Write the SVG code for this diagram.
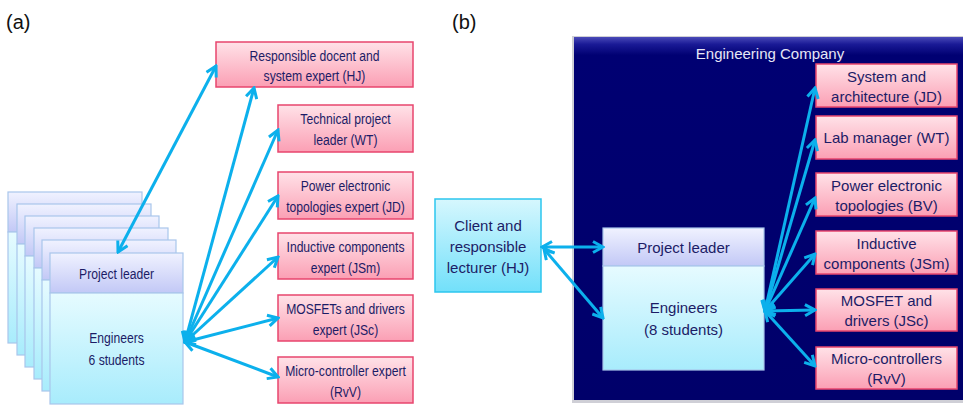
<svg xmlns="http://www.w3.org/2000/svg" width="963" height="405" viewBox="0 0 963 405">
  <style>
    text { font-family: "Liberation Sans", Arial, sans-serif; font-size: 15px; fill: #1c1c66; text-anchor: middle; }
    .lbl { font-size: 20px; fill: #111; text-anchor: start; }
    .title { fill: #e6e6f6; }
    .pink { fill: url(#gPink); stroke: #e8456e; stroke-width: 1.5; }
    .head { fill: url(#gHead); stroke: #a9c6ec; stroke-width: 1.2; }
    .body { fill: url(#gBody); stroke: #a9c6ec; stroke-width: 1.2; }
    .client { fill: url(#gClient); stroke: #2cc6ee; stroke-width: 1.5; }
    .conn { fill: none; stroke: #0cb0ec; stroke-width: 3; marker-start: url(#arr); marker-end: url(#arr); }
  </style>
  <defs>
    <linearGradient id="gPink" x1="0" y1="0" x2="0" y2="1">
      <stop offset="0" stop-color="#ffe2e8"/>
      <stop offset="1" stop-color="#fb9fb4"/>
    </linearGradient>
    <linearGradient id="gHead" x1="0" y1="0" x2="0" y2="1">
      <stop offset="0" stop-color="#f0f2ff"/>
      <stop offset="1" stop-color="#c2c8f6"/>
    </linearGradient>
    <linearGradient id="gBody" x1="0" y1="0" x2="0" y2="1">
      <stop offset="0" stop-color="#e6fbff"/>
      <stop offset="1" stop-color="#a8ecfc"/>
    </linearGradient>
    <linearGradient id="gClient" x1="0" y1="0" x2="0" y2="1">
      <stop offset="0" stop-color="#d6f7fe"/>
      <stop offset="1" stop-color="#72e0fa"/>
    </linearGradient>
    <linearGradient id="gNavy" x1="0" y1="0" x2="0" y2="1">
      <stop offset="0" stop-color="#4a4ab8"/>
      <stop offset="0.02" stop-color="#1a1a96"/>
      <stop offset="0.05" stop-color="#000072"/>
      <stop offset="1" stop-color="#00006a"/>
    </linearGradient>
    <marker id="arr" markerUnits="userSpaceOnUse" markerWidth="14" markerHeight="14" viewBox="0 0 14 14" refX="12" refY="7" orient="auto-start-reverse">
      <path d="M2,1.5 L12,7 L2,12.5" fill="none" stroke="#0cb0ec" stroke-width="3" stroke-linejoin="miter"/>
    </marker>
  </defs>

  <text class="lbl" x="6" y="29">(a)</text>
  <text class="lbl" x="452" y="29">(b)</text>

  <!-- Panel (a): stacked cards -->
  <g id="stack">
    <rect class="head" x="8" y="192" width="134" height="40"/>
    <rect class="body" x="8" y="232" width="134" height="111"/>
    <rect class="head" x="17" y="204" width="134" height="40"/>
    <rect class="body" x="17" y="244" width="134" height="111"/>
    <rect class="head" x="25" y="216" width="134" height="40"/>
    <rect class="body" x="25" y="256" width="134" height="111"/>
    <rect class="head" x="34" y="228" width="134" height="40"/>
    <rect class="body" x="34" y="268" width="134" height="111"/>
    <rect class="head" x="42" y="240" width="134" height="40"/>
    <rect class="body" x="42" y="280" width="134" height="111"/>
  </g>
  <g id="a-team">
    <rect class="head" x="50" y="253" width="133" height="40"/>
    <rect class="body" x="50" y="293" width="133" height="111"/>
    <g transform="translate(116.5 0) scale(0.81 1)">
      <text x="0" y="279">Project leader</text>
      <text x="0" y="343">Engineers</text>
      <text x="0" y="365">6 students</text>
    </g>
  </g>

  <g id="a-hj">
    <rect class="pink" x="216" y="42" width="197" height="45"/>
    <g transform="translate(314.5 0) scale(0.81 1)">
      <text x="0" y="61">Responsible docent and</text>
      <text x="0" y="81">system expert (HJ)</text>
    </g>
  </g>
  <g id="a-wt">
    <rect class="pink" x="278" y="105" width="135" height="47"/>
    <g transform="translate(345.5 0) scale(0.81 1)">
      <text x="0" y="124">Technical project</text>
      <text x="0" y="145">leader (WT)</text>
    </g>
  </g>
  <g id="a-jd">
    <rect class="pink" x="278" y="172" width="135" height="47"/>
    <g transform="translate(345.5 0) scale(0.81 1)">
      <text x="0" y="191">Power electronic</text>
      <text x="0" y="212">topologies expert (JD)</text>
    </g>
  </g>
  <g id="a-jsm">
    <rect class="pink" x="278" y="233" width="135" height="46"/>
    <g transform="translate(345.5 0) scale(0.81 1)">
      <text x="0" y="252">Inductive components</text>
      <text x="0" y="273">expert (JSm)</text>
    </g>
  </g>
  <g id="a-jsc">
    <rect class="pink" x="278" y="295" width="135" height="46"/>
    <g transform="translate(345.5 0) scale(0.81 1)">
      <text x="0" y="314">MOSFETs and drivers</text>
      <text x="0" y="335">expert (JSc)</text>
    </g>
  </g>
  <g id="a-rvv">
    <rect class="pink" x="278" y="357" width="135" height="46"/>
    <g transform="translate(345.5 0) scale(0.81 1)">
      <text x="0" y="376">Micro-controller expert</text>
      <text x="0" y="397">(RvV)</text>
    </g>
  </g>

  <!-- Panel (b) -->
  <g id="company">
    <rect x="572" y="36" width="391" height="367" fill="#cfcfd6"/>
    <rect x="574" y="37" width="389" height="363" fill="url(#gNavy)"/>
    <text class="title" x="770" y="59">Engineering Company</text>
  </g>

  <g id="b-client">
    <rect class="client" x="435" y="199" width="106" height="93"/>
    <text x="488" y="231">Client and</text>
    <text x="488" y="252">responsible</text>
    <text x="488" y="273">lecturer (HJ)</text>
  </g>

  <g id="b-team">
    <rect class="head" x="603" y="228" width="161" height="38"/>
    <rect class="body" x="603" y="266" width="161" height="104"/>
    <text x="683.5" y="253">Project leader</text>
    <text x="683.5" y="313">Engineers</text>
    <text x="683.5" y="335">(8 students)</text>
  </g>

  <g id="b-jd">
    <rect class="pink" x="816" y="64" width="141" height="43"/>
    <text x="886.5" y="81.5">System and</text>
    <text x="886.5" y="101.5">architecture (JD)</text>
  </g>
  <g id="b-wt">
    <rect class="pink" x="816" y="116" width="141" height="43"/>
    <text x="886.5" y="143">Lab manager (WT)</text>
  </g>
  <g id="b-bv">
    <rect class="pink" x="816" y="173" width="141" height="43"/>
    <text x="886.5" y="190.5">Power electronic</text>
    <text x="886.5" y="210.5">topologies (BV)</text>
  </g>
  <g id="b-jsm">
    <rect class="pink" x="816" y="231" width="141" height="43"/>
    <text x="886.5" y="248.5">Inductive</text>
    <text x="886.5" y="268.5">components (JSm)</text>
  </g>
  <g id="b-jsc">
    <rect class="pink" x="816" y="289" width="141" height="42"/>
    <text x="886.5" y="306">MOSFET and</text>
    <text x="886.5" y="326">drivers (JSc)</text>
  </g>
  <g id="b-rvv">
    <rect class="pink" x="816" y="347" width="141" height="42"/>
    <text x="886.5" y="364">Micro-controllers</text>
    <text x="886.5" y="384">(RvV)</text>
  </g>

  <!-- Connectors -->
  <g id="connectors">
    <line class="conn" x1="118" y1="252" x2="216" y2="66"/>
    <line class="conn" x1="185" y1="342" x2="254" y2="88"/>
    <line class="conn" x1="185" y1="342" x2="278" y2="130"/>
    <line class="conn" x1="185" y1="342" x2="278" y2="196"/>
    <line class="conn" x1="185" y1="342" x2="278" y2="257"/>
    <line class="conn" x1="185" y1="342" x2="278" y2="318"/>
    <line class="conn" x1="185" y1="342" x2="278" y2="377"/>

    <line class="conn" x1="542" y1="247" x2="603" y2="247"/>
    <line class="conn" x1="544" y1="249" x2="603" y2="318"/>

    <line class="conn" x1="765" y1="311" x2="815" y2="88"/>
    <line class="conn" x1="765" y1="311" x2="815" y2="140"/>
    <line class="conn" x1="765" y1="311" x2="815" y2="198"/>
    <line class="conn" x1="765" y1="311" x2="815" y2="254"/>
    <line class="conn" x1="765" y1="311" x2="815" y2="310"/>
    <line class="conn" x1="765" y1="311" x2="815" y2="366"/>
  </g>
</svg>
